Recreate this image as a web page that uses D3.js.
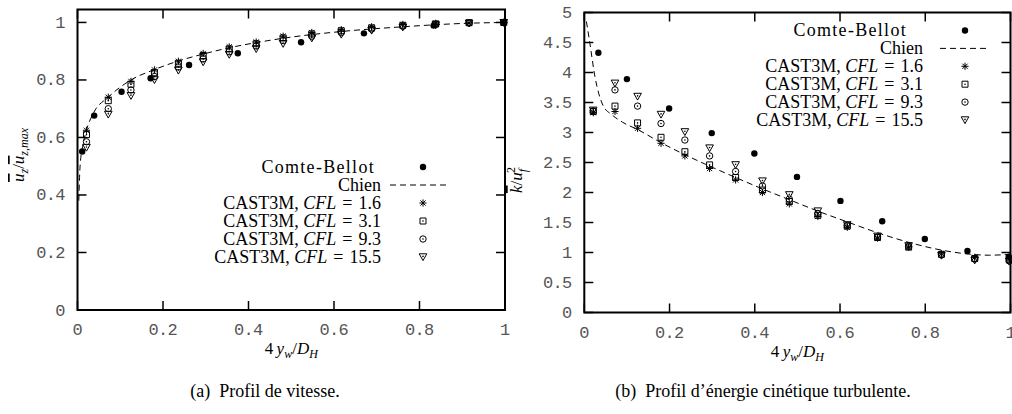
<!DOCTYPE html>
<html><head><meta charset="utf-8">
<script src="https://cdn.jsdelivr.net/npm/d3@7"></script>
<style>body{margin:0;background:#fff}
.tick{font-family:"Liberation Mono","DejaVu Sans Mono",monospace;font-size:17px;fill:#555}
.serif{font-family:"Liberation Serif","Times New Roman",serif}
</style>
</head><body><svg id="c" width="1012" height="414"></svg>
<script>
// ---------- data ----------
const xGrid = [0.021,0.072,0.125,0.18,0.236,0.294,0.355,0.418,0.481,0.548,0.617,0.688,0.761,0.838,0.916,0.997];

// (a) velocity profile
const velCB_x = [0.011,0.039,0.103,0.171,0.261,0.375,0.523,0.670,0.833,0.998];
const velCB_y = [0.551,0.676,0.759,0.806,0.852,0.893,0.931,0.962,0.989,0.999];
const velChien_x = [0.003,0.006,0.011,0.02,0.037,0.072,0.125,0.18,0.236,0.294,0.355,0.419,0.481,0.614,0.762,0.91,1.0];
const velChien_y = [0.38,0.5,0.56,0.62,0.684,0.74,0.80,0.836,0.866,0.89,0.912,0.93,0.945,0.968,0.985,0.997,1.0];
const velCFL16  = [0.625,0.74,0.795,0.835,0.865,0.892,0.915,0.932,0.952,0.965,0.975,0.985,0.993,0.997,0.999,1.0];
const velCFL31  = [0.61,0.728,0.785,0.825,0.858,0.885,0.908,0.926,0.946,0.96,0.971,0.981,0.99,0.995,0.999,1.0];
const velCFL93  = [0.585,0.70,0.765,0.812,0.845,0.873,0.898,0.918,0.937,0.952,0.965,0.977,0.987,0.993,0.998,1.0];
const velCFL155 = [0.565,0.68,0.745,0.80,0.833,0.862,0.888,0.908,0.926,0.945,0.958,0.972,0.983,0.991,0.997,0.999];

// (b) turbulent kinetic energy profile
const keCB_x = [0.033,0.100,0.199,0.299,0.399,0.499,0.601,0.699,0.799,0.899,0.996];
const keCB_y = [4.33,3.89,3.40,2.99,2.65,2.26,1.86,1.52,1.225,1.025,0.93];
const keChien_x = [0.005,0.013,0.025,0.044,0.064,0.09,0.125,0.18,0.236,0.294,0.355,0.418,0.481,0.548,0.617,0.688,0.761,0.838,0.9,0.95,1.0];
const keChien_y = [4.85,4.49,3.93,3.45,3.3,3.17,3.05,2.83,2.63,2.44,2.25,2.06,1.88,1.69,1.51,1.33,1.17,1.04,0.975,0.955,0.97];
const keCFL16  = [3.33,3.35,3.07,2.82,2.61,2.40,2.21,2.00,1.81,1.60,1.42,1.24,1.09,0.98,0.92,0.90];
const keCFL31  = [3.35,3.44,3.16,2.92,2.68,2.46,2.25,2.04,1.85,1.62,1.44,1.25,1.09,0.97,0.90,0.88];
const keCFL93  = [3.36,3.71,3.44,3.15,2.875,2.61,2.35,2.11,1.89,1.65,1.45,1.26,1.10,0.96,0.89,0.86];
const keCFL155 = [3.37,3.82,3.60,3.30,3.01,2.74,2.46,2.19,1.96,1.69,1.46,1.27,1.11,0.95,0.87,0.85];

const xTicks = [0,0.2,0.4,0.6,0.8,1];
const xTickLabels = ["0","0.2","0.4","0.6","0.8","1"];
const velYTicks = [0,0.2,0.4,0.6,0.8,1];
const velYTickLabels = ["0","0.2","0.4","0.6","0.8","1"];
const keYTicks = [0,0.5,1,1.5,2,2.5,3,3.5,4,4.5,5];
const keYTickLabels = ["0","0.5","1","1.5","2","2.5","3","3.5","4","4.5","5"];
const cflValues = ["1.6","3.1","9.3","15.5"];
const captions = ["(a)\u2002Profil de vitesse.", "(b)\u2002Profil d\u2019\u00e9nergie cin\u00e9tique turbulente."];

// ---------- drawing ----------
const svg = d3.select("#c");
svg.append("rect").attr("width",1012).attr("height",414).attr("fill","#fff");

function markerPath(type){
  switch(type){
    case "star": return "M-3.6,0H3.6M0,-3.6V3.6M-2.6,-2.6L2.6,2.6M-2.6,2.6L2.6,-2.6";
    case "square": return "M-3,-3H3V3H-3Z";
    case "tri": return "M-3.8,-3.2H3.8L0,3.6Z";
    default: return null;
  }
}
function drawMarker(g, type, x, y){
  const m = g.append("g").attr("transform",`translate(${x},${y})`);
  if(type==="dot"){
    m.append("circle").attr("r",3.2).attr("fill","#000");
  } else if(type==="circle"){
    m.append("circle").attr("r",3.2).attr("fill","none").attr("stroke","#000").attr("stroke-width",1);
    m.append("circle").attr("r",0.8).attr("fill","#000");
  } else {
    m.append("path").attr("d",markerPath(type)).attr("fill","none").attr("stroke","#000").attr("stroke-width",1);
    if(type!=="star") m.append("circle").attr("cy", type==="tri"?-0.6:0).attr("r",0.8).attr("fill","#000");
  }
}
function tickText(g, s, xx, yy, anchor){
  const t = g.append("text").attr("class","tick").attr("x",xx).attr("y",yy).attr("text-anchor",anchor).text(s);
  if(s.length>1) t.attr("textLength", 10.2*(s.length-1)+8.8).attr("lengthAdjust","spacing");
  return t;
}

function panel(cfg){
  const g = svg.append("g");
  const x = d3.scaleLinear().domain([0,1]).range(cfg.xr);
  const y = d3.scaleLinear().domain(cfg.yd).range(cfg.yr);
  const [x0,x1] = cfg.xr, [y0,y1] = cfg.yr;
  const tl = 9;
  cfg.xt.forEach(v=>{
    g.append("line").attr("x1",x(v)).attr("x2",x(v)).attr("y1",y0).attr("y2",y0-tl).attr("stroke","#000").attr("stroke-width",1.5);
    g.append("line").attr("x1",x(v)).attr("x2",x(v)).attr("y1",y1).attr("y2",y1+tl).attr("stroke","#000").attr("stroke-width",1.5);
  });
  cfg.yt.forEach(v=>{
    g.append("line").attr("x1",x0).attr("x2",x0+tl).attr("y1",y(v)).attr("y2",y(v)).attr("stroke","#000").attr("stroke-width",1.5);
    g.append("line").attr("x1",x1).attr("x2",x1-tl).attr("y1",y(v)).attr("y2",y(v)).attr("stroke","#000").attr("stroke-width",1.5);
  });
  g.append("rect").attr("x",x0).attr("y",y1).attr("width",x1-x0).attr("height",y0-y1)
    .attr("fill","none").attr("stroke","#000").attr("stroke-width",2);
  cfg.xt.forEach((v,i)=> tickText(g, cfg.xtl[i], x(v), y0+25, "middle"));
  cfg.yt.forEach((v,i)=> tickText(g, cfg.ytl[i], x0-12, y(v)+5.5, "end"));
  const line = d3.line().x(d=>x(d[0])).y(d=>y(d[1])).curve(d3.curveMonotoneX);
  g.append("path").attr("d",line(cfg.chienX.map((v,i)=>[v,cfg.chienY[i]])))
    .attr("fill","none").attr("stroke","#000").attr("stroke-width",1).attr("stroke-dasharray","6,4");
  const types = ["star","square","circle","tri"];
  cfg.cfl.forEach((s,si)=>{
    s.forEach((v,i)=> drawMarker(g, types[si], x(xGrid[i]), y(v)));
  });
  cfg.cbX.forEach((v,i)=> drawMarker(g,"dot",x(v),y(cfg.cbY[i])));
  // legend
  const L = cfg.leg;
  const rows = [{t:"Comte-Bellot", m:"dot"},{t:"Chien", m:"line"}]
    .concat(cflValues.map((c,i)=>({t:"cfl", c, m:types[i]})));
  rows.forEach((r,i)=>{
    const yy = L.y + i*L.dy;
    const tx = g.append("text").attr("class","serif").attr("x", i===0 ? L.tx - L.cbShift : L.tx).attr("y",yy+5.5).attr("text-anchor","end")
      .attr("font-size",18).attr("fill","#000");
    if(r.t==="cfl"){
      tx.append("tspan").text("CAST3M, ");
      tx.append("tspan").attr("font-style","italic").text("CFL");
      tx.append("tspan").attr("dx",6).text("=");
      tx.append("tspan").attr("dx",6).text(r.c);
    } else if(i===0){
      tx.attr("letter-spacing",1.3).text(r.t);
    } else tx.text(r.t);
    if(r.m==="line"){
      g.append("line").attr("x1",L.lx0).attr("x2",L.lx1).attr("y1",yy).attr("y2",yy)
        .attr("stroke","#000").attr("stroke-width",1).attr("stroke-dasharray","6,4");
    } else drawMarker(g, r.m, L.mx, yy);
  });
  // axis title x
  const xl = g.append("text").attr("class","serif").attr("x",(x0+x1)/2).attr("y",y0+44).attr("text-anchor","middle")
    .attr("font-size",17).attr("fill","#000");
  xl.append("tspan").text("4\u2009");
  xl.append("tspan").attr("font-style","italic").text("y");
  xl.append("tspan").attr("font-style","italic").attr("font-size",12).attr("dy",4).text("w");
  xl.append("tspan").attr("dy",-4).text("/");
  xl.append("tspan").attr("font-style","italic").text("D");
  xl.append("tspan").attr("font-style","italic").attr("font-size",12).attr("dy",4).text("H");
  g.append("text").attr("class","serif").attr("x",cfg.capX).attr("y",397).attr("text-anchor","middle")
    .attr("font-size",18).attr("fill","#000").text(cfg.caption);
  return g;
}

panel({xr:[77.5,505], yd:[0,1.045], yr:[310,9.5], xt:xTicks, xtl:xTickLabels, yt:velYTicks, ytl:velYTickLabels,
  chienX:velChien_x, chienY:velChien_y, cfl:[velCFL16,velCFL31,velCFL93,velCFL155], cbX:velCB_x, cbY:velCB_y,
  leg:{y:167, dy:18, tx:381, cbShift:6, mx:423, lx0:390, lx1:448}, capX:265, caption:captions[0]});
panel({xr:[584.3,1010.5], yd:[0,5], yr:[312.5,12.5], xt:xTicks, xtl:xTickLabels, yt:keYTicks, ytl:keYTickLabels,
  chienX:keChien_x, chienY:keChien_y, cfl:[keCFL16,keCFL31,keCFL93,keCFL155], cbX:keCB_x, cbY:keCB_y,
  leg:{y:30.5, dy:17.9, tx:923, cbShift:16, mx:965, lx0:940, lx1:990}, capX:763, caption:captions[1]});

const ya = svg.append("text").attr("class","serif").attr("transform","translate(24,155) rotate(-90)").attr("text-anchor","middle")
  .attr("font-size",17).attr("fill","#000");
ya.append("tspan").attr("font-style","italic").attr("text-decoration","overline").text("u");
ya.append("tspan").attr("font-style","italic").attr("font-size",12).attr("dy",4).text("z");
ya.append("tspan").attr("dy",-4).text("/");
ya.append("tspan").attr("font-style","italic").attr("text-decoration","overline").text("u");
ya.append("tspan").attr("font-style","italic").attr("font-size",12).attr("dy",4).text("z,max");

const yb = svg.append("text").attr("class","serif").attr("transform","translate(522,180) rotate(-90)").attr("text-anchor","middle")
  .attr("font-size",17).attr("fill","#000");
yb.append("tspan").attr("font-style","italic").attr("text-decoration","overline").text("k");
yb.append("tspan").text("/");
yb.append("tspan").attr("font-style","italic").text("u");
yb.append("tspan").attr("font-style","italic").attr("font-size",12).attr("dy",5).text("f");
yb.append("tspan").attr("font-size",12).attr("dx",-4).attr("dy",-12).text("2");
</script></body></html>
